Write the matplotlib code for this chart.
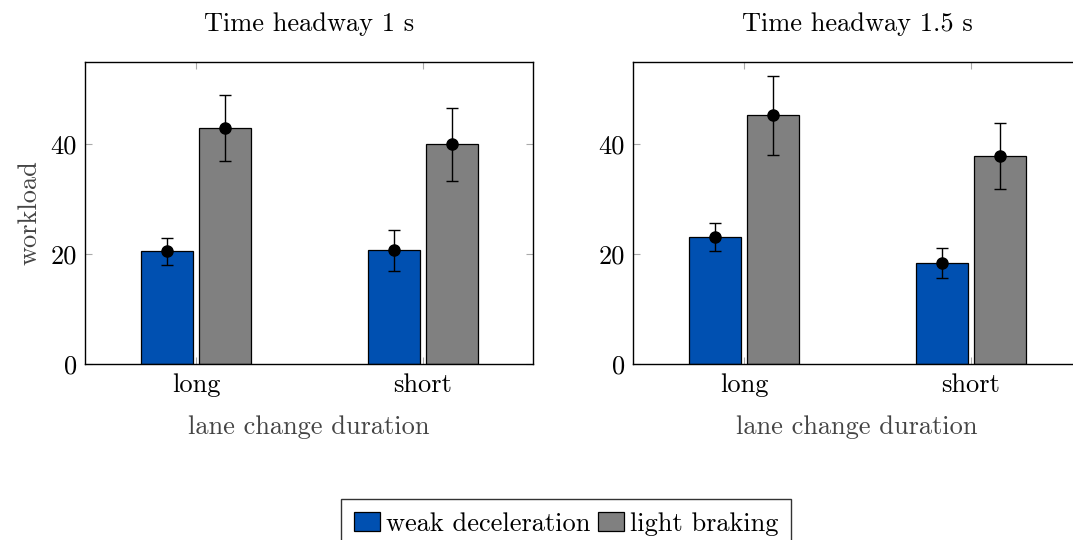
import numpy as np
import matplotlib
matplotlib.use("Agg")
import matplotlib.pyplot as plt

plt.rcParams['font.family'] = ['cmr10', 'DejaVu Serif']
plt.rcParams['mathtext.fontset'] = 'cm'
plt.rcParams['axes.formatter.use_mathtext'] = True

# data
durations = ['long', 'short']
series = ['weak deceleration', 'light braking']
titles = ['Time headway 1 s', 'Time headway 1.5 s']

weak_1s = [20.5, 20.7]
weak_1s_err = [2.5, 3.7]
light_1s = [43.0, 40.0]
light_1s_err = [6.0, 6.7]

weak_15s = [23.1, 18.4]
weak_15s_err = [2.6, 2.8]
light_15s = [45.3, 37.9]
light_15s_err = [7.2, 6.0]

colors = ['#0050b1', '#808080']
FS = 19

fig = plt.figure(figsize=(10.73, 5.4), dpi=100)
axes = [fig.add_axes([0.0792, 0.3259, 0.4175, 0.5593]),
        fig.add_axes([0.5899, 0.3259, 0.4175, 0.5593])]

panels = [(weak_1s, weak_1s_err, light_1s, light_1s_err),
          (weak_15s, weak_15s_err, light_15s, light_15s_err)]

x = np.arange(len(durations))
w = 0.229
off = 0.128

for ax, title, (wv, we, lv, le) in zip(axes, titles, panels):
    bars = []
    for i, (vals, errs) in enumerate([(wv, we), (lv, le)]):
        pos = x + (-off if i == 0 else off)
        b = ax.bar(pos, vals, w, color=colors[i], edgecolor='black',
                   linewidth=0.9, label=series[i], zorder=2)
        bars.append(b)
        ax.errorbar(pos, vals, yerr=errs, fmt='o', color='black',
                    markersize=8, capsize=4, elinewidth=1, capthick=1, zorder=3)
    ax.set_xlim(-0.49, 1.485)
    ax.set_ylim(0, 55)
    ax.set_xticks(x)
    ax.set_xticklabels(durations, fontsize=FS)
    ax.set_yticks([0, 20, 40])
    ax.set_yticklabels(['0', '20', '40'], fontsize=FS)
    ax.tick_params(direction='in', top=True, right=True, length=5,
                   color='#aaaaaa', width=0.8, pad=6)
    ax.tick_params(axis='x', pad=7)
    for s in ax.spines.values():
        s.set_linewidth(1.0)
    ax.set_title(title, fontsize=FS, pad=22)
    ax.set_xlabel('lane change duration', fontsize=FS, color='#444444', labelpad=13)

axes[0].set_ylabel('workload', fontsize=FS, color='#444444', labelpad=6)

fig.legend(bars, series, loc='upper center', bbox_to_anchor=(0.5275, 0.076),
           ncol=2, fontsize=FS, frameon=True, fancybox=False, edgecolor='black',
           handlelength=1.0, handleheight=0.7, handletextpad=0.2,
           columnspacing=0.3, borderpad=0.5, borderaxespad=0)

fig.savefig('out.png', dpi=100)
